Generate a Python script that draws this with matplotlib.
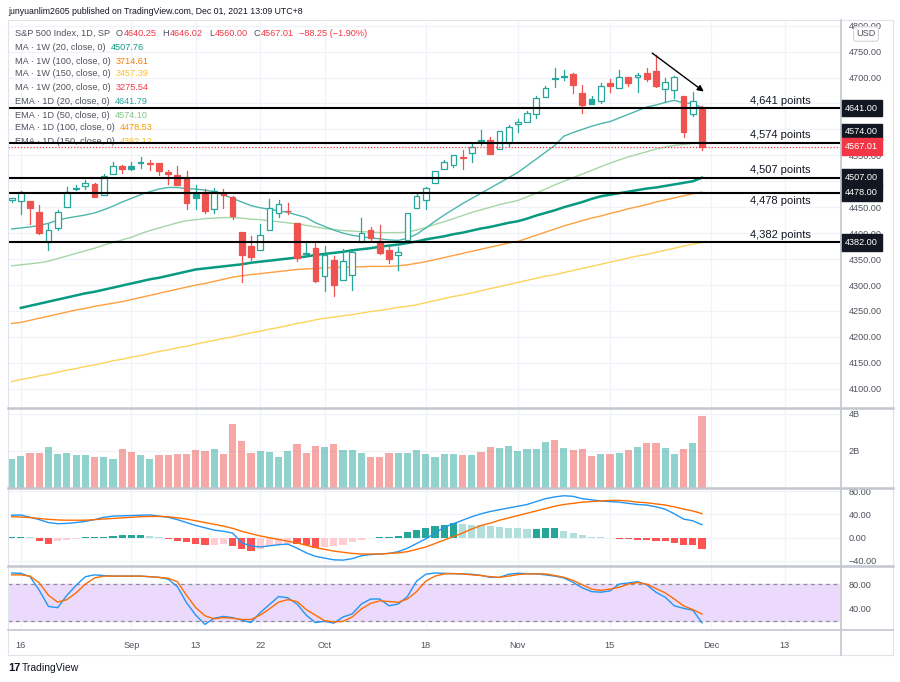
import matplotlib
matplotlib.use("Agg")
import matplotlib.pyplot as plt
import numpy as np
from matplotlib.lines import Line2D
from matplotlib.patches import Rectangle
from matplotlib.transforms import blended_transform_factory

plt.rcParams["font.family"] = ["Liberation Sans", "DejaVu Sans"]

# ---- data ----
AUG = [13, 16, 17, 18, 19, 20, 23, 24, 25, 26, 27, 30, 31]
SEP = [1, 2, 3, 7, 8, 9, 10, 13, 14, 15, 16, 17, 20, 21, 22, 23, 24, 27, 28, 29, 30]
OCT = [1, 4, 5, 6, 7, 8, 11, 12, 13, 14, 15, 18, 19, 20, 21, 22, 25, 26, 27, 28, 29]
NOV = [1, 2, 3, 4, 5, 8, 9, 10, 11, 12, 15, 16, 17, 18, 19, 22, 23, 24, 26, 29, 30]
DEC = [1, 2, 3, 6, 7, 8, 9, 10, 13]  # axis only, no candles yet

PREV_CLOSE = 4460.8
opens = [4464.8, 4461.7, 4462.1, 4440.9, 4382.4, 4410.6, 4450.3, 4484.4, 4490.5, 4493.8,
         4474.1, 4513.8, 4529.8, 4528.8, 4534.5, 4532.4, 4535.4, 4518.1, 4513.0, 4506.9,
         4474.8, 4479.3, 4447.5, 4477.1, 4469.7, 4402.9, 4374.5, 4367.4, 4406.8, 4438.0,
         4442.1, 4419.5, 4362.4, 4370.7, 4317.2, 4348.8, 4309.9, 4319.6, 4383.7, 4406.5,
         4385.4, 4368.3, 4358.0, 4386.8, 4447.7, 4463.7, 4497.3, 4524.4, 4532.2, 4546.1,
         4553.7, 4578.7, 4580.2, 4562.8, 4572.9, 4610.6, 4613.3, 4630.6, 4662.9, 4699.3,
         4701.5, 4707.3, 4670.3, 4659.4, 4655.2, 4689.3, 4679.4, 4701.5, 4700.7, 4708.4,
         4712.0, 4678.5, 4675.8, 4664.6, 4628.8, 4640.25]
highs = [4468.4, 4480.3, 4462.1, 4454.3, 4418.6, 4444.4, 4489.9, 4492.8, 4501.7, 4495.9,
         4513.3, 4537.4, 4531.4, 4537.1, 4545.9, 4541.5, 4535.4, 4521.8, 4529.9, 4520.5,
         4492.0, 4485.7, 4486.9, 4485.9, 4471.5, 4402.9, 4394.9, 4416.8, 4465.4, 4463.1,
         4457.3, 4419.5, 4385.6, 4382.6, 4375.2, 4355.5, 4369.2, 4365.6, 4430.0, 4412.0,
         4415.9, 4374.9, 4372.9, 4439.7, 4475.8, 4488.8, 4520.4, 4540.9, 4551.4, 4559.7,
         4572.6, 4598.5, 4584.6, 4597.6, 4608.1, 4620.3, 4635.2, 4663.5, 4683.0, 4718.5,
         4714.9, 4708.5, 4684.9, 4664.6, 4688.5, 4697.4, 4715.0, 4701.5, 4708.8, 4717.8,
         4743.8, 4699.4, 4702.9, 4664.6, 4672.95, 4646.02]
lows = [4460.8, 4437.7, 4417.8, 4397.6, 4367.7, 4406.8, 4450.3, 4482.7, 4485.7, 4468.9,
        4474.1, 4513.8, 4515.8, 4522.0, 4524.7, 4521.9, 4513.0, 4493.9, 4492.1, 4447.5,
        4445.7, 4438.4, 4438.4, 4447.7, 4427.8, 4305.9, 4348.0, 4367.4, 4406.8, 4430.3,
        4436.2, 4346.3, 4355.1, 4306.2, 4288.5, 4278.9, 4309.9, 4290.5, 4383.7, 4386.2,
        4360.6, 4342.1, 4329.9, 4386.8, 4447.7, 4447.5, 4496.4, 4524.4, 4526.9, 4524.0,
        4537.4, 4569.2, 4551.7, 4562.8, 4567.6, 4595.1, 4613.3, 4621.2, 4662.6, 4681.3,
        4694.4, 4670.9, 4630.9, 4648.3, 4650.8, 4672.9, 4679.4, 4684.4, 4672.8, 4694.2,
        4682.2, 4652.7, 4659.9, 4585.4, 4625.3, 4560.0]
closes = [4468.0, 4479.7, 4448.1, 4400.3, 4405.8, 4441.7, 4479.5, 4486.2, 4496.2, 4470.0,
          4509.4, 4528.8, 4522.7, 4524.1, 4537.0, 4535.4, 4520.0, 4514.1, 4493.3, 4458.6,
          4468.7, 4443.1, 4480.7, 4473.8, 4433.0, 4357.7, 4354.2, 4395.6, 4449.0, 4455.5,
          4443.1, 4352.6, 4359.5, 4307.5, 4357.0, 4300.5, 4345.7, 4363.6, 4399.8, 4391.3,
          4361.2, 4350.7, 4363.8, 4438.3, 4471.4, 4486.5, 4519.6, 4536.2, 4549.8, 4544.9,
          4566.5, 4574.8, 4551.7, 4596.4, 4605.4, 4613.7, 4630.7, 4660.6, 4680.1, 4697.5,
          4701.7, 4685.3, 4646.7, 4649.3, 4682.9, 4682.8, 4700.9, 4688.7, 4704.5, 4698.0,
          4682.9, 4690.7, 4701.5, 4594.6, 4655.3, 4567.01]
volume_b = [1.54, 1.72, 1.87, 1.91, 2.22, 1.81, 1.87, 1.76, 1.76, 1.65,
            1.67, 1.56, 2.13, 1.93, 1.76, 1.54, 1.78, 1.78, 1.81, 1.85,
            2.04, 2.00, 2.09, 1.81, 3.48, 2.52, 1.91, 2.00, 1.94, 1.67,
            2.02, 2.39, 1.89, 2.26, 2.19, 2.37, 2.04, 2.07, 1.91, 1.69,
            1.69, 1.91, 1.91, 1.89, 2.04, 1.81, 1.69, 1.81, 1.85, 1.78,
            1.78, 1.96, 2.20, 2.15, 2.28, 2.00, 2.13, 2.09, 2.50, 2.59,
            2.17, 2.04, 2.13, 1.72, 1.85, 1.81, 1.87, 2.04, 2.19, 2.41,
            2.41, 2.17, 1.81, 2.09, 2.44, 3.90]

ema20 = [4408, 4410, 4412, 4415, 4419, 4425, 4429, 4432, 4435, 4439,
         4445, 4452, 4460, 4467, 4474, 4480, 4485, 4488, 4488, 4486,
         4485, 4483, 4480, 4474, 4467, 4460, 4453, 4449, 4446, 4443,
         4440, 4435, 4430, 4420, 4413, 4406, 4400, 4396, 4393, 4391,
         4389, 4387, 4386, 4390, 4398, 4410, 4423, 4435, 4446, 4457,
         4467, 4477, 4487, 4497, 4507, 4517, 4530, 4543, 4556, 4569,
         4587, 4594, 4600, 4606, 4611, 4615, 4622, 4629, 4636, 4643,
         4647, 4652, 4656, 4651, 4650, 4642]
ema50 = [4337, 4339, 4341, 4343, 4346, 4351, 4356, 4361, 4366, 4371,
         4377, 4382, 4387, 4392, 4399, 4405, 4410, 4415, 4420, 4424,
         4426, 4428, 4429, 4430, 4430, 4429, 4427, 4426, 4424, 4422,
         4420, 4418, 4415, 4412, 4409, 4407, 4405, 4404, 4403, 4402,
         4401, 4401, 4401, 4402, 4406, 4411, 4417, 4422, 4428, 4434,
         4440, 4445, 4450, 4455, 4459, 4463, 4470, 4477, 4485, 4493,
         4500, 4507, 4514, 4521, 4528, 4535, 4541, 4547, 4552, 4557,
         4562, 4566, 4569, 4571, 4573, 4574]
ema100 = [4226, 4228, 4232, 4236, 4240, 4244, 4248, 4252, 4255, 4259,
          4262, 4265, 4268, 4272, 4276, 4280, 4284, 4288, 4292, 4296,
          4300, 4303, 4307, 4311, 4315, 4318, 4320, 4322, 4324, 4326,
          4328, 4330, 4331, 4332, 4333, 4334, 4334, 4335, 4335, 4336,
          4336, 4336, 4337, 4339, 4342, 4345, 4349, 4353, 4357, 4361,
          4365, 4369, 4373, 4377, 4381, 4384, 4390, 4396, 4402, 4408,
          4414, 4419, 4424, 4429, 4433, 4438, 4442, 4447, 4451, 4455,
          4460, 4464, 4468, 4472, 4476, 4479]
ema150 = [4114, 4118, 4121, 4125, 4128, 4132, 4136, 4139, 4143, 4146,
          4150, 4154, 4157, 4161, 4164, 4168, 4172, 4175, 4179, 4182,
          4186, 4190, 4193, 4197, 4200, 4204, 4208, 4211, 4215, 4218,
          4222, 4226, 4229, 4233, 4236, 4238, 4241, 4243, 4246, 4249,
          4251, 4254, 4257, 4259, 4262, 4266, 4270, 4274, 4278, 4281,
          4285, 4289, 4293, 4297, 4301, 4305, 4309, 4313, 4317, 4320,
          4324, 4328, 4332, 4336, 4340, 4344, 4348, 4352, 4356, 4359,
          4363, 4367, 4371, 4375, 4379, 4382]
ma1w20 = [np.nan, 4256, 4260, 4264, 4268, 4272, 4276, 4280, 4284, 4287,
          4291, 4295, 4299, 4303, 4307, 4311, 4314, 4318, 4322, 4326,
          4330, 4332, 4334, 4336, 4338, 4340, 4343, 4345, 4347, 4349,
          4351, 4353, 4355, 4358, 4360, 4362, 4364, 4367, 4369, 4371,
          4374, 4376, 4378, 4381, 4384, 4388, 4391, 4394, 4398, 4401,
          4405, 4409, 4412, 4416, 4420, 4423, 4428, 4434, 4439, 4444,
          4450, 4455, 4460, 4466, 4471, 4474, 4477, 4480, 4483, 4486,
          4488, 4491, 4494, 4497, 4500, 4507]

macd = [38.5, 39, 35, 31, 26, 24, 24.5, 26, 28, 31,
        35, 37, 37.5, 38, 38.5, 39, 37, 35, 31, 26,
        21, 17, 13, 11, 8, -9, -14, -16, -14, -12,
        -11, -18, -26, -32, -35, -38, -38.5, -36, -31, -29,
        -28, -27, -24, -18, -10, -2, 8, 18, 24, 30,
        36, 41, 45, 48, 51, 54, 57, 62, 67, 70,
        72, 71, 67, 65, 63, 62, 61, 59, 57, 56,
        53, 49, 41, 32, 29, 22.28]
signal = [36, 35.5, 34.5, 33, 31.5, 30.5, 30, 30, 30, 31,
          32, 33, 34, 35, 36, 36.5, 36.5, 36, 34, 32,
          29, 26, 23, 20, 16, 11, 7, 3, 0, -3,
          -6, -9, -13, -17, -20, -23, -25, -27, -28, -28,
          -28, -27, -26, -24, -20, -16, -10, -4, 2, 8,
          15, 21, 25, 30, 34, 38, 42, 46, 50, 54,
          57, 59, 61, 62, 63, 64, 64, 63, 61, 60,
          58, 56, 53, 49, 46, 41.32]
hist = [2, 2, 1, -5, -10, -6, -4, -2, 1, 1,
        2, 3, 4, 4, 4, 3, 1, -3, -6, -8,
        -10, -13, -12, -11, -15, -20, -23, -20, -15, -12,
        -10, -10, -12, -18, -16, -14, -12, -8, -4, -1,
        1, 1, 3, 9, 13, 17, 20, 22, 25, 23,
        22, 21, 20, 19, 17, 16, 15, 15.5, 16, 16.5,
        12, 8, 5, 2, 1, -1, -2, -2.5, -3.5, -4.5,
        -5.5, -6.5, -9, -12, -12.5, -19.03]

stoch_k = [98, 97.5, 92, 70, 44, 42, 62, 78, 92, 95,
           94, 93, 93, 93, 93, 92, 91, 88, 76, 50,
           30, 15, 25, 28, 26, 22, 18, 34, 47, 60,
           58, 48, 30, 18, 20, 17, 27, 32, 48, 56,
           56, 45, 48, 60, 85, 96, 98, 97.5, 97, 96.5,
           96, 94, 91, 91, 96, 97.5, 97, 96.5, 95, 93,
           90, 83, 74, 68, 67, 69, 80, 82, 84, 79,
           67, 59, 45, 41, 38, 17.9]
stoch_d = [95, 95, 93, 82, 62, 51, 55, 66, 80, 90,
           93, 93, 93, 93, 93, 92, 91, 89.5, 84, 62,
           42, 29, 24, 26, 25, 23, 23, 30, 40, 51,
           55, 52, 39, 30, 21, 19, 20, 27, 40, 49,
           53, 52, 50.7, 56, 68, 85, 93, 96.5, 97, 96.5,
           95, 94, 92, 91, 93, 95.5, 96.5, 96.5, 96.5, 94,
           91, 86, 79, 72, 70, 72, 75, 80, 82.5, 80,
           73, 66, 56, 45, 39, 31.92]

LEVELS = [4641, 4574, 4507, 4478, 4382]
LAST_PRICE = 4567.01
PRICE_TICKS = [4100, 4150, 4200, 4250, 4300, 4350, 4400, 4450, 4550, 4700, 4750, 4800]
DATE_TICKS = [("16", "08-16"), ("Sep", "09-01"), ("13", "09-13"), ("22", "09-22"),
              ("Oct", "10-01"), ("18", "10-18"), ("Nov", "11-01"), ("15", "11-15"),
              ("Dec", "12-01"), ("13", "12-13")]
ARROW_FROM = (69.6, 4747)
ARROW_TO = (75.2, 4673)

# ---- styling ----
W, H = 900, 682
GREEN, RED = "#26a69a", "#ef5350"
GRID = "#f0f3fa"
AXTXT = "#50535e"
FS = 6.6

calendar = ([f"08-{d:02d}" for d in AUG] + [f"09-{d:02d}" for d in SEP] +
            [f"10-{d:02d}" for d in OCT] + [f"11-{d:02d}" for d in NOV] +
            [f"12-{d:02d}" for d in DEC])
n = len(closes)
xs = np.arange(n)


def rect(x0, y0, x1, y1):
    return [x0 / W, 1 - y1 / H, (x1 - x0) / W, (y1 - y0) / H]


fig = plt.figure(figsize=(W / 100, H / 100), dpi=100)
ax = fig.add_axes(rect(8, 22, 840, 408))
axv = fig.add_axes(rect(8, 408, 840, 488), sharex=ax)
axm = fig.add_axes(rect(8, 488, 840, 566), sharex=ax)
axs = fig.add_axes(rect(8, 566, 840, 630), sharex=ax)

tick_pos = [calendar.index(d) for _, d in DATE_TICKS]
for a in (ax, axv, axm, axs):
    for sp in a.spines.values():
        sp.set_visible(False)
    a.yaxis.tick_right()
    a.tick_params(axis="y", length=0, pad=6, labelsize=FS, labelcolor=AXTXT)
    a.tick_params(axis="x", length=0, labelbottom=False)
    for p in tick_pos:
        a.axvline(p, color=GRID, lw=0.9, zorder=0)
ax.set_xlim(-0.4, 90.0)

# ---- price pane ----
ax.set_ylim(4063, 4807)
ax.set_yticks(PRICE_TICKS)
ax.set_yticklabels([f"{v:.2f}" for v in PRICE_TICKS])
for v in range(4100, 4801, 50):
    ax.axhline(v, color=GRID, lw=0.9, zorder=0)

ax.plot(xs, ema150, color="#fdd35c", lw=1, zorder=2)
ax.plot(xs, ema100, color="#ff9f40", lw=1, zorder=2)
ax.plot(xs, ema50, color="#a5d6a7", lw=1, zorder=2)
ax.plot(xs, ema20, color="#4db6ac", lw=1, zorder=2)
ax.plot(xs, ma1w20, color="#089981", lw=1.8, zorder=2)

bw = 0.62
for i in range(n):
    o, h, l, c = opens[i], highs[i], lows[i], closes[i]
    prev = closes[i - 1] if i else PREV_CLOSE
    col = GREEN if c >= prev else RED
    top, bot = max(o, c), min(o, c)
    ax.plot([i, i], [top, h], color=col, lw=0.9, zorder=3)
    ax.plot([i, i], [l, bot], color=col, lw=0.9, zorder=3)
    hollow = c > o
    ax.add_patch(Rectangle((i - bw / 2, bot), bw, max(top - bot, 0.6),
                           facecolor="white" if hollow else col,
                           edgecolor=col, lw=0.9, zorder=3))

for lv in LEVELS:
    ax.axhline(lv, color="black", lw=1.5, zorder=5)
ax.axhline(LAST_PRICE, color="#f23645", lw=0.9, ls=(0, (1, 1.5)), zorder=4)
ax.annotate("", xy=ARROW_TO, xytext=ARROW_FROM,
            arrowprops=dict(arrowstyle="-|>", color="black", lw=1,
                            mutation_scale=9, shrinkA=0, shrinkB=0), zorder=6)

lbl_tr = blended_transform_factory(ax.transAxes, ax.transData)
label_x = (780 - 8) / 832
for lv in LEVELS:
    dy = -8 if lv == 4478 else 7.5
    ax.annotate(f"{lv:,} points", xy=(label_x, lv), xycoords=lbl_tr,
                xytext=(0, dy * 0.72), textcoords="offset points",
                ha="center", va="center", fontsize=8, color="#131722", zorder=6)

# right-axis price boxes
box_tr = blended_transform_factory(fig.transFigure, ax.transData)
box_shift = {4574: 8.0}
for lv in LEVELS:
    ax.annotate(f"{lv:.2f}", xy=(845 / W, lv), xycoords=box_tr,
                xytext=(0, box_shift.get(lv, 0)), textcoords="offset points",
                ha="left", va="center", fontsize=FS, color="white", zorder=7,
                annotation_clip=False,
                bbox=dict(boxstyle="square,pad=0.4", fc="#131722", ec="#131722"))
ax.annotate(f"{LAST_PRICE:.2f}", xy=(845 / W, LAST_PRICE), xycoords=box_tr,
            ha="left", va="center", fontsize=FS, color="white", zorder=7,
            annotation_clip=False,
            bbox=dict(boxstyle="square,pad=0.4", fc="#f23645", ec="#f23645"))
fig.text(866 / W, 1 - 34 / H, "USD", fontsize=FS, color=AXTXT, ha="center", va="center",
         zorder=8, bbox=dict(boxstyle="round,pad=0.3", fc="white", ec="#d1d4dc", lw=0.8))

# ---- volume pane (colour by close vs open) ----
vol = np.array(volume_b)
vcols = [GREEN if closes[i] >= opens[i] else RED for i in range(n)]
axv.bar(xs, vol, width=0.78, color=vcols, alpha=0.5, zorder=2)
axv.set_ylim(0, 4.32)
axv.set_yticks([2, 4])
axv.set_yticklabels(["2B", "4B"])
for v in (2, 4):
    axv.axhline(v, color=GRID, lw=0.9, zorder=0)

# ---- MACD pane ----
hcols = []
for i, hv in enumerate(hist):
    prev_h = hist[i - 1] if i else hv
    if hv >= 0:
        hcols.append("#26a69a" if hv >= prev_h else "#b2dfdb")
    else:
        hcols.append("#ffcdd2" if hv > prev_h else "#ff5252")
axm.bar(xs, hist, width=0.78, color=hcols, zorder=2)
axm.plot(xs, macd, color="#2196f3", lw=1, zorder=3)
axm.plot(xs, signal, color="#ff6d00", lw=1, zorder=3)
axm.set_ylim(-48.6, 85.3)
axm.set_yticks([-40, 0, 40, 80])
axm.set_yticklabels(["\u221240.00", "0.00", "40.00", "80.00"])
for v in (-40, 0, 40, 80):
    axm.axhline(v, color=GRID, lw=0.9, zorder=0)

# ---- Stoch pane ----
axs.axhspan(20, 80, color="#ebdafc", zorder=1)
axs.axhline(80, color="#8a8d96", lw=0.9, ls=(0, (3, 3)), zorder=2)
axs.axhline(20, color="#8a8d96", lw=0.9, ls=(0, (3, 3)), zorder=2)
axs.plot(xs, stoch_k, color="#2196f3", lw=1, zorder=3)
axs.plot(xs, stoch_d, color="#ff6d00", lw=1, zorder=3)
axs.set_ylim(6, 109.3)
axs.set_yticks([40, 80])
axs.set_yticklabels(["40.00", "80.00"])
axs.set_xticks(tick_pos)
axs.set_xticklabels([t for t, _ in DATE_TICKS])
axs.tick_params(axis="x", labelbottom=True, pad=8, labelsize=FS, labelcolor=AXTXT)

# ---- frame lines ----
for y in (408, 488, 566):
    fig.add_artist(Line2D([8 / W, 893 / W], [1 - y / H] * 2, color="#c3c6ce", lw=1.8))
fig.add_artist(Line2D([8 / W, 893 / W], [1 - 630 / H] * 2, color="#c3c6ce", lw=1.2))
fig.add_artist(Line2D([840.5 / W] * 2, [1 - 20 / H, 1 - 655 / H], color="#c3c6ce", lw=1.2))
fig.add_artist(Rectangle((8 / W, 1 - 655 / H), 885 / W, 635 / H, transform=fig.transFigure,
                         fill=False, ec="#e0e3eb", lw=0.8))

# ---- legend texts ----
renderer = fig.canvas.get_renderer()


def seq_text(x_px, y_px, parts, size=FS, z=1):
    x = x_px
    for s, col, gap in parts:
        t = ax.text(x / W, 1 - y_px / H, s, color=col, fontsize=size, ha="left",
                    va="center", transform=fig.transFigure, zorder=z)
        x += t.get_window_extent(renderer=renderer).width + gap


fig.text(8 / W, 1 - 12 / H, "junyuanlim2605 published on TradingView.com, Dec 01, 2021 13:09 UTC+8",
         fontsize=6.3, color="#131722", ha="left", va="center")

RD = "#f23645"
seq_text(15, 33, [("S&P 500 Index, 1D, SP", AXTXT, 6), ("O", AXTXT, 0.5), ("4640.25", RD, 6),
                  ("H", AXTXT, 0.5), ("4646.02", RD, 6), ("L", AXTXT, 0.5), ("4560.00", RD, 6),
                  ("C", AXTXT, 0.5), ("4567.01", RD, 5), ("\u221288.25 (\u22121.90%)", RD, 0)])
legend_rows = [
    ("MA \u00b7 1W (20, close, 0)", "4507.76", "#089981"),
    ("MA \u00b7 1W (100, close, 0)", "3714.61", "#f57c00"),
    ("MA \u00b7 1W (150, close, 0)", "3457.39", "#fbc02d"),
    ("MA \u00b7 1W (200, close, 0)", "3275.54", "#f23645"),
    ("EMA \u00b7 1D (20, close, 0)", "4641.79", "#26a69a"),
    ("EMA \u00b7 1D (50, close, 0)", "4574.10", "#81c784"),
    ("EMA \u00b7 1D (100, close, 0)", "4478.53", "#ff9800"),
    ("EMA \u00b7 1D (150, close, 0)", "4382.12", "#fbc02d"),
]
row_y = [47, 61, 74, 88, 101, 115, 128, 142]
for (name, val, col), y in zip(legend_rows, row_y):
    seq_text(15, y, [(name, AXTXT, 5), (val, col, 0)])

seq_text(15, 422, [("Vol", AXTXT, 5), ("3.901B", RD, 0)], z=5)
seq_text(15, 500, [("MACD (12, 26, close, 9)", AXTXT, 5), ("\u221219.03", RD, 5),
                   ("22.28", "#2196f3", 5), ("41.32", "#ff6d00", 0)], z=5)
seq_text(15, 579, [("Stoch (14, 3, 3)", AXTXT, 5), ("17.90", "#2196f3", 5),
                   ("31.92", "#ff6d00", 0)], z=5)

fig.text(8 / W, 1 - 668 / H, "17", fontsize=8, fontweight="heavy", color="#131722",
         ha="left", va="center")
fig.text(22 / W, 1 - 668 / H, "TradingView", fontsize=7.5, color="#131722",
         ha="left", va="center")

fig.savefig("out.png", dpi=100)
